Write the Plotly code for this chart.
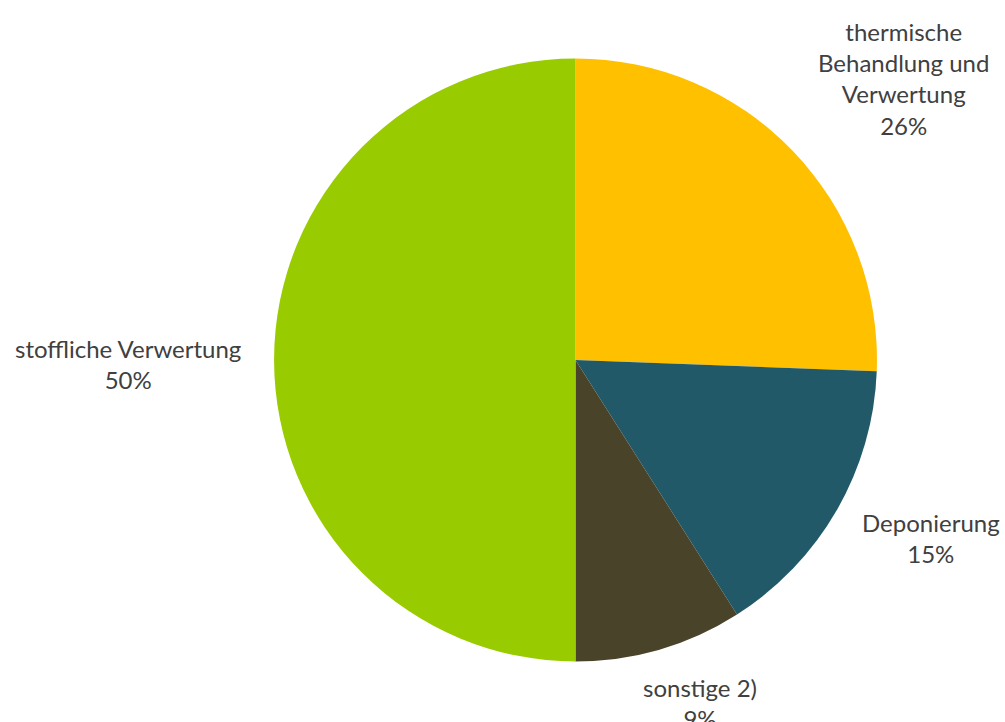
import plotly.graph_objects as go

categories = ["thermische Behandlung und Verwertung", "Deponierung", "sonstige 2)", "stoffliche Verwertung"]
label_text = ["thermische<br>Behandlung und<br>Verwertung", "Deponierung", "sonstige 2)", "stoffliche Verwertung"]
values = [25.6, 15.4, 9.0, 50.0]
colors = ["#FFC000", "#215968", "#494429", "#99CC00"]

# label anchor positions (paper coords) for outside labels
label_x = [0.899, 0.926, 0.697, 0.127]
label_y = [0.891, 0.255, 0.026, 0.496]

fig = go.Figure(go.Pie(
    labels=categories,
    values=values,
    marker=dict(colors=colors, line=dict(width=0)),
    sort=False,
    direction="clockwise",
    rotation=0,
    textinfo="none",
    hoverinfo="label+percent",
    domain=dict(x=[0.2726, 0.8726], y=[0.083, 0.92]),
    showlegend=False,
))

total = sum(values)
for txt, v, x, y in zip(label_text, values, label_x, label_y):
    fig.add_annotation(
        text=f"{txt}<br>{round(100 * v / total)}%",
        x=x, y=y, xref="paper", yref="paper",
        xanchor="center", yanchor="middle",
        showarrow=False, align="center",
        font=dict(family="Lato, Open Sans, sans-serif", size=24, color="#404040"),
    )

fig.update_layout(
    width=1005, height=722,
    margin=dict(l=0, r=0, t=0, b=0),
    paper_bgcolor="white",
    plot_bgcolor="white",
)

fig.write_html("out.html")
